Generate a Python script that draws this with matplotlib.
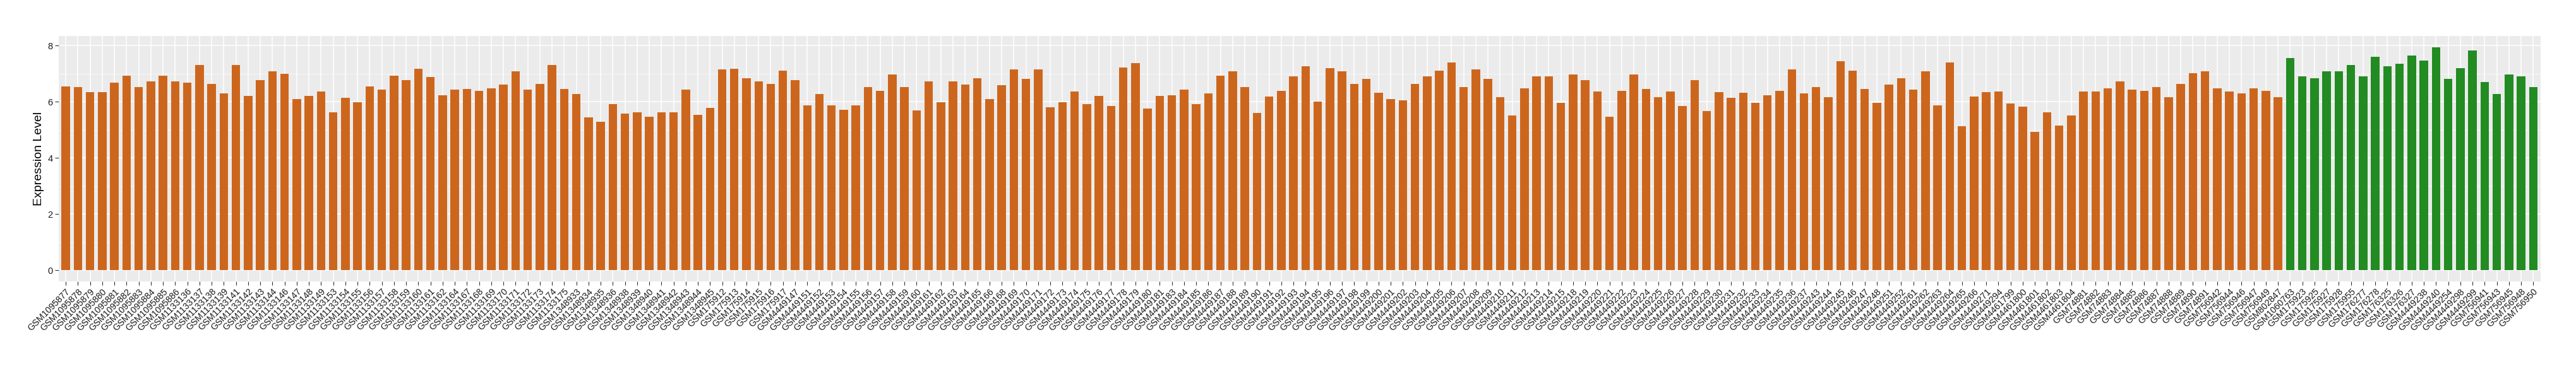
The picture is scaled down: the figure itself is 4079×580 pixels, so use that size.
"""Bar chart of expression level per GSM sample (two groups)."""

from matplotlib import pyplot
import numpy

# Group 1 (orange) samples and expression levels
samples_a = [
    'GSM1095877', 'GSM1095878', 'GSM1095879', 'GSM1095880', 'GSM1095881',
    'GSM1095882', 'GSM1095883', 'GSM1095884', 'GSM1095885', 'GSM1095886',
    'GSM1133136', 'GSM1133137', 'GSM1133138', 'GSM1133139', 'GSM1133141',
    'GSM1133142', 'GSM1133143', 'GSM1133144', 'GSM1133146', 'GSM1133147',
    'GSM1133148', 'GSM1133149', 'GSM1133153', 'GSM1133154', 'GSM1133155',
    'GSM1133156', 'GSM1133157', 'GSM1133158', 'GSM1133159', 'GSM1133160',
    'GSM1133161', 'GSM1133162', 'GSM1133164', 'GSM1133167', 'GSM1133168',
    'GSM1133169', 'GSM1133170', 'GSM1133171', 'GSM1133172', 'GSM1133173',
    'GSM1133174', 'GSM1133175', 'GSM1348933', 'GSM1348934', 'GSM1348935',
    'GSM1348936', 'GSM1348938', 'GSM1348939', 'GSM1348940', 'GSM1348941',
    'GSM1348942', 'GSM1348943', 'GSM1348944', 'GSM1348945', 'GSM175912',
    'GSM175913', 'GSM175914', 'GSM175915', 'GSM175916', 'GSM175917',
    'GSM4449147', 'GSM4449151', 'GSM4449152', 'GSM4449153', 'GSM4449154',
    'GSM4449155', 'GSM4449156', 'GSM4449157', 'GSM4449158', 'GSM4449159',
    'GSM4449160', 'GSM4449161', 'GSM4449162', 'GSM4449163', 'GSM4449164',
    'GSM4449165', 'GSM4449166', 'GSM4449168', 'GSM4449169', 'GSM4449170',
    'GSM4449171', 'GSM4449172', 'GSM4449173', 'GSM4449174', 'GSM4449175',
    'GSM4449176', 'GSM4449177', 'GSM4449178', 'GSM4449179', 'GSM4449180',
    'GSM4449181', 'GSM4449183', 'GSM4449184', 'GSM4449185', 'GSM4449186',
    'GSM4449187', 'GSM4449188', 'GSM4449189', 'GSM4449190', 'GSM4449191',
    'GSM4449192', 'GSM4449193', 'GSM4449194', 'GSM4449195', 'GSM4449196',
    'GSM4449197', 'GSM4449198', 'GSM4449199', 'GSM4449200', 'GSM4449201',
    'GSM4449202', 'GSM4449203', 'GSM4449204', 'GSM4449205', 'GSM4449206',
    'GSM4449207', 'GSM4449208', 'GSM4449209', 'GSM4449210', 'GSM4449211',
    'GSM4449212', 'GSM4449213', 'GSM4449214', 'GSM4449215', 'GSM4449218',
    'GSM4449219', 'GSM4449220', 'GSM4449221', 'GSM4449222', 'GSM4449223',
    'GSM4449224', 'GSM4449225', 'GSM4449226', 'GSM4449227', 'GSM4449228',
    'GSM4449229', 'GSM4449230', 'GSM4449231', 'GSM4449232', 'GSM4449233',
    'GSM4449234', 'GSM4449235', 'GSM4449236', 'GSM4449237', 'GSM4449243',
    'GSM4449244', 'GSM4449245', 'GSM4449246', 'GSM4449247', 'GSM4449248',
    'GSM4449251', 'GSM4449252', 'GSM4449261', 'GSM4449262', 'GSM4449263',
    'GSM4449264', 'GSM4449265', 'GSM4449266', 'GSM4449271', 'GSM4449294',
    'GSM4461799', 'GSM4461800', 'GSM4461801', 'GSM4461802', 'GSM4461803',
    'GSM4461804', 'GSM74881', 'GSM74882', 'GSM74883', 'GSM74884',
    'GSM74885', 'GSM74886', 'GSM74887', 'GSM74888', 'GSM74889',
    'GSM74890', 'GSM74891', 'GSM756942', 'GSM756944', 'GSM756946',
    'GSM756947', 'GSM756949', 'GSM802847',
]
values_a = [
    6.53, 6.51, 6.33, 6.33, 6.67, 6.93, 6.51, 6.71, 6.93, 6.73,
    6.67, 7.31, 6.64, 6.29, 7.31, 6.20, 6.77, 7.07, 7.00, 6.09,
    6.20, 6.35, 5.63, 6.13, 5.97, 6.55, 6.42, 6.93, 6.77, 7.18,
    6.87, 6.22, 6.42, 6.44, 6.38, 6.47, 6.60, 7.07, 6.42, 6.64,
    7.30, 6.44, 6.26, 5.43, 5.28, 5.91, 5.57, 5.63, 5.46, 5.62,
    5.62, 6.42, 5.53, 5.77, 7.14, 7.18, 6.84, 6.71, 6.62, 7.11,
    6.76, 5.86, 6.26, 5.86, 5.72, 5.86, 6.51, 6.38, 6.96, 6.51,
    5.68, 6.71, 5.97, 6.71, 6.60, 6.84, 6.10, 6.58, 7.15, 6.82,
    7.14, 5.79, 5.97, 6.35, 5.91, 6.20, 5.84, 7.22, 7.38, 5.75,
    6.20, 6.22, 6.42, 5.91, 6.29, 6.93, 7.07, 6.51, 5.59, 6.17,
    6.39, 6.89, 7.25, 6.00, 7.20, 7.07, 6.62, 6.80, 6.31, 6.10,
    6.04, 6.64, 6.89, 7.11, 7.40, 6.51, 7.14, 6.82, 6.15, 5.50,
    6.48, 6.89, 6.91, 5.95, 6.96, 6.77, 6.35, 5.46, 6.38, 6.96,
    6.44, 6.15, 6.35, 5.84, 6.77, 5.66, 6.33, 6.13, 6.31, 5.95,
    6.22, 6.39, 7.14, 6.29, 6.51, 6.15, 7.43, 7.11, 6.44, 5.95,
    6.60, 6.84, 6.42, 7.09, 5.86, 7.40, 5.12, 6.17, 6.33, 6.35,
    5.93, 5.81, 4.92, 5.63, 5.14, 5.50, 6.35, 6.35, 6.48, 6.73,
    6.42, 6.39, 6.51, 6.15, 6.64, 7.02, 7.07, 6.48, 6.35, 6.29,
    6.48, 6.39, 6.15,
]

# Group 2 (green) samples and expression levels
samples_b = [
    'GSM1060763', 'GSM175923', 'GSM175925', 'GSM175927', 'GSM175928',
    'GSM175955', 'GSM176277', 'GSM176278', 'GSM176325', 'GSM176326',
    'GSM176327', 'GSM4449238', 'GSM4449240', 'GSM4449254', 'GSM4449298',
    'GSM4449299', 'GSM756941', 'GSM756943', 'GSM756945', 'GSM756948',
    'GSM756950',
]
values_b = [
    7.56, 6.89, 6.84, 7.07, 7.07, 7.30, 6.89, 7.60, 7.25, 7.36,
    7.65, 7.47, 7.94, 6.82, 7.20, 7.82, 6.69, 6.26, 6.96, 6.89,
    6.51,
]

color_a = '#CD661D'
color_b = '#228B22'

samples = samples_a + samples_b
values = values_a + values_b
colors = [color_a] * len(samples_a) + [color_b] * len(samples_b)
x = numpy.arange(len(samples))

pyplot.rc('font', family=['Liberation Sans', 'DejaVu Sans'], size=10)
fig = pyplot.figure(figsize=(40.8, 5.8), dpi=100)
ax = fig.add_axes([0.0227, 0.2314, 0.9633, 0.6703])

ax.set_facecolor('#EBEBEB')
ax.bar(x, values, width=0.7, color=colors, zorder=3)

ymax = max(values)
ax.set_xlim(-0.6, len(samples) - 0.4)
ax.set_ylim(-0.05 * ymax, 1.05 * ymax)

ax.set_yticks([0, 2, 4, 6, 8])
ax.set_yticks([1, 3, 5, 7], minor=True)
ax.set_xticks(x)
ax.set_xticklabels(samples, rotation=45, ha='right', va='top',
                   rotation_mode='anchor', fontsize=10.3, color='#1a1a1a')
ax.tick_params(axis='y', labelsize=10.5, labelcolor='#1a1a1a')
ax.tick_params(axis='both', which='major', length=4, width=0.8,
               color='#333333', pad=2.5)
ax.tick_params(axis='y', which='minor', length=0)

ax.grid(which='major', color='white', linewidth=1.1, zorder=0)
ax.grid(which='minor', axis='y', color='white', linewidth=0.5, zorder=0)
ax.set_axisbelow(True)
for spine in ax.spines.values():
    spine.set_visible(False)

ax.set_ylabel('Expression Level', fontsize=14, labelpad=4)

fig.savefig('out.png', dpi=100)
